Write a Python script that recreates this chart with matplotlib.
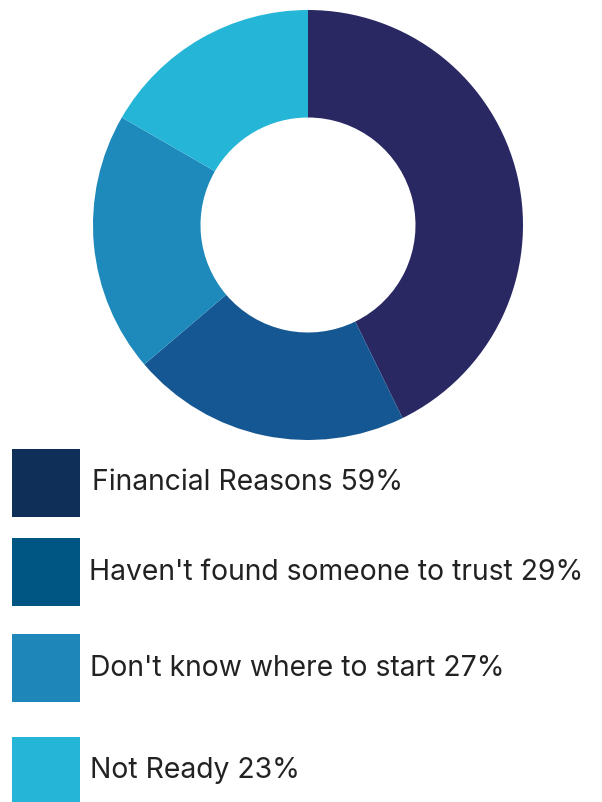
import matplotlib
matplotlib.use("Agg")
import matplotlib.pyplot as plt
from matplotlib.patches import Rectangle

labels = ["Financial Reasons", "Haven't found someone to trust",
          "Don't know where to start", "Not Ready"]
values = [59, 29, 27, 23]
ring_colors = ["#292863", "#155792", "#1e89bb", "#25b5d6"]
key_colors = ["#0f2e58", "#005683", "#1e86b9", "#25b5d6"]

W, H = 602, 802
fig = plt.figure(figsize=(W / 100, H / 100), dpi=100)
fig.patch.set_facecolor("white")

# Donut ring
cx, cy, r = 308, 225, 215
ax = fig.add_axes([(cx - r) / W, (H - cy - r) / H, 2 * r / W, 2 * r / H])
ax.pie(values, colors=ring_colors, startangle=90, counterclock=False,
       radius=1.0, wedgeprops=dict(width=0.5, linewidth=0))
ax.set_xlim(-1, 1)
ax.set_ylim(-1, 1)
ax.set_aspect("equal")
ax.axis("off")

# Key below the ring
key = fig.add_axes([0, 0, 1, 1])
key.set_xlim(0, W)
key.set_ylim(H, 0)
key.axis("off")
box_tops = [449, 538, 634, 737]
text_x = [92, 89, 90, 90]
for lab, val, col, top, tx in zip(labels, values, key_colors, box_tops, text_x):
    key.add_patch(Rectangle((12, top), 68, 68, facecolor=col, edgecolor="none"))
    key.text(tx, top + 34, f"{lab} {val}%", fontsize=20.4, family="Inter",
             color="#222222", va="center", ha="left")

fig.savefig("out.png", dpi=100)
